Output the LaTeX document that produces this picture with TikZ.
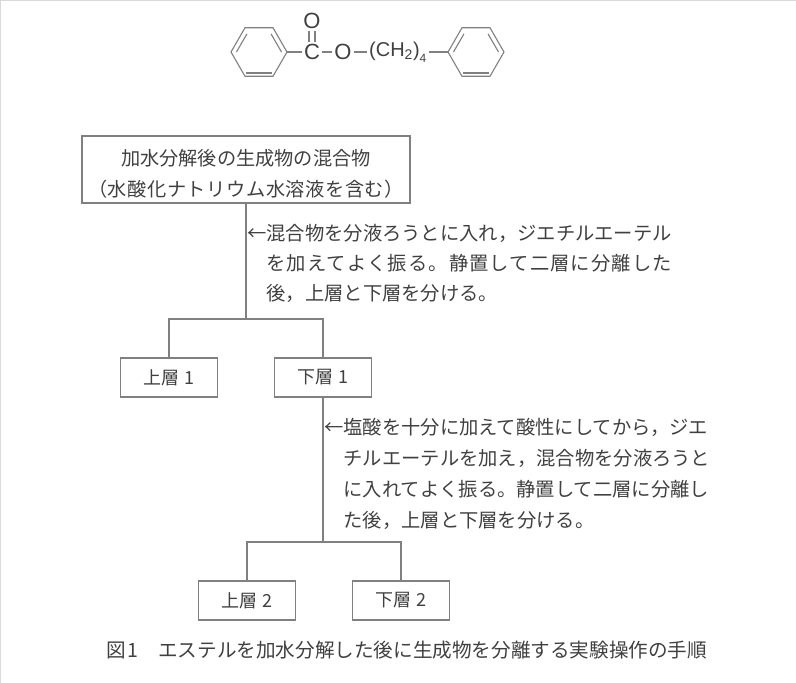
\documentclass[tikz,border=0pt]{standalone}
\usepackage{fontspec}
\setmainfont{Noto Sans CJK JP}
\newfontfamily\latinfont{Liberation Sans}
\usetikzlibrary{positioning}
\definecolor{inkgray}{gray}{0.5}
\definecolor{textgray}{gray}{0.25}
\tikzset{
  % boxes of the flow chart
  layer/.style = {
    draw = inkgray,
    line width = 1.1pt,
    minimum width = 97pt,
    minimum height = 39pt,
    inner sep = 0pt,
    text = textgray,
    font = \fontsize{18}{20}\selectfont
  },
  mixture/.style = {
    layer,
    minimum width = 328pt,
    minimum height = 67pt,
    align = center,
    font = \fontsize{19.2}{31}\selectfont
  },
  % text beside a vertical line
  step note/.style = {
    anchor = north west,
    align = left,
    inner sep = 0pt,
    text = textgray,
    font = \fontsize{19.3}{31}\selectfont
  },
  link/.style = {
    draw = inkgray,
    line width = 1.1pt
  },
  % structural formula
  bond/.style = {
    draw = inkgray,
    line width = 1.1pt
  },
  atom/.style = {
    inner sep = 2pt,
    text = textgray,
    font = \fontsize{22}{24}\latinfont
  }
}
\begin{document}
\begin{tikzpicture}[x=1pt, y=-1pt]
  \useasboundingbox (0,0) rectangle (796,683);
  \draw[draw=black!15, line width=1pt] (796,0.5) -- (0.5,0.5) -- (0.5,683);

  % flow chart
  \node[mixture] (mix) at (246,169.5) {\rule{0pt}{24pt}加水分解後の生成物の混合物\\{\addfontfeature{LetterSpace=3}（水酸化ナトリウム水溶液を含む）}};
  \node[layer] (upper1) at (169,377.5) {上層 1};
  \node[layer] (lower1) at (323,377.5) {下層 1};
  \node[layer] (upper2) at (247,600.5) {上層 2};
  \node[layer] (lower2) at (401,600.5) {下層 2};

  \coordinate (split1) at (246,319);
  \coordinate (split2) at (323,542);

  \draw[link] (mix) -- (split1);
  \draw[link] (upper1) |- (split1);
  \draw[link] (lower1.north) |- (split1);
  \draw[link] (lower1) -- (split2);
  \draw[link] (upper2) |- (split2);
  \draw[link] (lower2) |- (split2);

  \node[step note, font=\fontsize{19.3}{30}\selectfont] (note1) at (247,224) {←混合物を分液ろうとに入れ，ジエチルエーテル\\　{\addfontfeature{LetterSpace=5.7}を加えてよく振る。静置して二層に分離した}\\　後，上層と下層を分ける。};
  \node[step note] (note2) at (324,418) {←塩酸を十分に加えて酸性にしてから，ジエ\\　チルエーテルを加え，混合物を分液ろうと\\　に入れてよく振る。静置して二層に分離し\\　た後，上層と下層を分ける。};

  \node[anchor=west, inner sep=0pt, text=textgray, font=\fontsize{19.6}{20}\selectfont] (caption) at (106,650) {図\hspace{2pt}1　エステルを加水分解した後に生成物を分離する実験操作の手順};

  % structural formula
  \node[atom] (carbon) at (312,52) {C};
  \node[atom] (oxo) at (312,21) {O};
  \node[atom] (ester) at (343,52) {O};
  \node[atom, anchor=west, font=\fontsize{20}{24}\latinfont] (chain) at (367,52) {(CH\textsubscript{2})\raisebox{-6pt}{\fontsize{12}{12}\selectfont 4}};
  \coordinate (ringa) at (259,52);
  \coordinate (ringb) at (476,52);

  \foreach \ring in {ringa,ringb} {
    \draw[bond] (\ring) ++(180:28) -- ++(60:28) -- ++(0:28) -- ++(-60:28) -- ++(-120:28) -- ++(180:28) -- cycle;
    \draw[bond] (\ring) ++(-22.5,0) -- ++(-60:21);
    \draw[bond] (\ring) ++(22.5,0) -- ++(-120:21);
    \draw[bond] (\ring) ++(-13,21) -- ++(26,0);
  }
  \draw[bond] (287,52) -- (carbon);
  \draw[bond] (carbon) -- (ester);
  \draw[bond] ([xshift=-3pt]carbon.north) -- ([xshift=-3pt]carbon.north |- oxo.south);
  \draw[bond] ([xshift=3pt]carbon.north) -- ([xshift=3pt]carbon.north |- oxo.south);
  \draw[bond] (ester) -- (chain);
  \draw[bond] (chain) -- (448,52);
\end{tikzpicture}
\end{document}
